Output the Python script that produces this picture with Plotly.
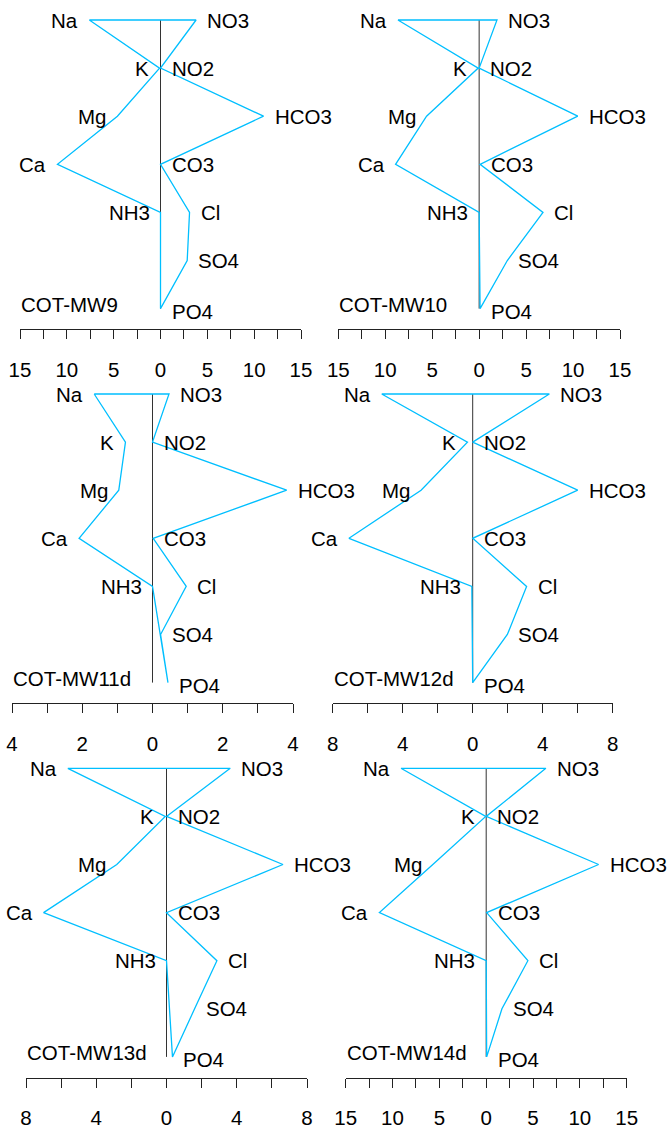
import plotly.graph_objects as go

# ions, top to bottom
cations = ["Na", "K", "Mg", "Ca", "NH3"]
anions = ["NO3", "NO2", "HCO3", "CO3", "Cl", "SO4", "PO4"]

samples = ["COT-MW9", "COT-MW10", "COT-MW11d", "COT-MW12d", "COT-MW13d", "COT-MW14d"]

# cation values (drawn to the left)
na = [7.6, 8.65, 1.66, 5.2, 5.62, 9.1]
k = [0.1, 0.1, 0.77, 0.3, 0.07, 0.05]
mg = [4.6, 5.6, 0.96, 2.95, 2.83, 5.7]
ca = [11.0, 8.9, 2.09, 7.07, 7.0, 11.4]
nh3 = [0.0, 0.0, 0.0, 0.05, 0.0, 0.0]

# anion values (drawn to the right)
no3 = [3.8, 1.9, 0.47, 4.38, 3.63, 6.37]
no2 = [0.0, 0.0, 0.0, 0.0, 0.0, 0.0]
hco3 = [11.0, 10.5, 3.82, 6.0, 6.63, 12.0]
co3 = [0.0, 0.1, 0.02, 0.0, 0.0, 0.05]
cl = [3.1, 6.8, 0.96, 3.08, 2.87, 4.45]
so4 = [2.85, 3.0, 0.23, 1.98, 1.6, 1.68]
po4 = [0.0, 0.1, 0.44, 0.0, 0.34, 0.05]

# axis ticks per panel
ticks_15 = [-15, -12.5, -10, -7.5, -5, -2.5, 0, 2.5, 5, 7.5, 10, 12.5, 15]
text_15 = ["15", "", "10", "", "5", "", "0", "", "5", "", "10", "", "15"]
ticks_4 = [-4, -3, -2, -1, 0, 1, 2, 3, 4]
text_4 = ["4", "", "2", "", "0", "", "2", "", "4"]
ticks_8 = [-8, -6, -4, -2, 0, 2, 4, 6, 8]
text_8 = ["8", "", "4", "", "0", "", "4", "", "8"]
panel_ticks = [(ticks_15, text_15), (ticks_15, text_15), (ticks_4, text_4),
               (ticks_8, text_8), (ticks_8, text_8), (ticks_15, text_15)]

W, H = 670, 1142
CYAN = "#00BFFF"
FONT = "Liberation Sans, Arial, sans-serif"

# pixel frame of each panel: axis left, axis right, top row y
frames = [(20, 301, 20), (338.3, 620, 20),
          (12, 293, 394), (332.7, 612.7, 394),
          (26, 307, 768.3), (345.7, 626.7, 768.3)]
ROW = 48.1
AXIS_DROP = 309.3
TOP_PAD = 10

fig = go.Figure()
annotations = []

for i, name in enumerate(samples):
    n = i + 1
    xa = "x" if n == 1 else f"x{n}"
    ya = "y" if n == 1 else f"y{n}"
    left, right, top = frames[i]
    tv, tt = panel_ticks[i]
    lim = tv[-1]

    cat = [na[i], k[i], mg[i], ca[i], nh3[i]]
    an = [no3[i], no2[i], hco3[i], co3[i], cl[i], so4[i], po4[i]]

    # centre line
    fig.add_trace(go.Scatter(x=[0, 0], y=[0, -6], mode="lines",
                             line=dict(color="#333333", width=1),
                             xaxis=xa, yaxis=ya, showlegend=False,
                             hoverinfo="skip"))
    # stiff polygon
    px = [-v for v in cat] + [an[6], an[5], an[4], an[3], an[2], an[1], an[0], -cat[0]]
    py = [0, -1, -2, -3, -4, -6, -5, -4, -3, -2, -1, 0, 0]
    fig.add_trace(go.Scatter(x=px, y=py, mode="lines",
                             line=dict(color=CYAN, width=1.3),
                             xaxis=xa, yaxis=ya, showlegend=False))

    for j, lab in enumerate(cations):
        annotations.append(dict(x=-cat[j], y=-j, xref=xa, yref=ya, text=lab,
                                showarrow=False, xanchor="right", yanchor="middle",
                                xshift=-9))
    for j, lab in enumerate(anions):
        annotations.append(dict(x=an[j], y=-j, xref=xa, yref=ya, text=lab,
                                showarrow=False, xanchor="left", yanchor="middle",
                                xshift=9, yshift=-3 if lab == "PO4" else 0))
    annotations.append(dict(x=-lim, y=-6, xref=xa, yref=ya, text=name,
                            showarrow=False, xanchor="left", yanchor="middle",
                            xshift=-1, yshift=4))

    bottom = top + AXIS_DROP
    ymin = -AXIS_DROP / ROW
    ymax = TOP_PAD / ROW
    fig.layout[("xaxis" if n == 1 else f"xaxis{n}")] = dict(
        domain=[left / W, right / W], range=[-lim, lim], anchor=ya,
        showgrid=False, zeroline=False, showline=True, linecolor="#222222",
        linewidth=1, ticks="outside", ticklen=9, tickwidth=1, tickcolor="#222222",
        tickvals=tv, ticktext=tt, ticklabelstandoff=13, fixedrange=True,
        automargin=False)
    fig.layout[("yaxis" if n == 1 else f"yaxis{n}")] = dict(
        domain=[1 - bottom / H, 1 - (top - TOP_PAD) / H], range=[ymin, ymax],
        anchor=xa, visible=False, fixedrange=True, automargin=False)

fig.update_layout(
    width=W, height=H, margin=dict(l=0, r=0, t=0, b=0, autoexpand=False),
    paper_bgcolor="white", plot_bgcolor="white",
    font=dict(family=FONT, size=20.5, color="black"),
    annotations=annotations, showlegend=False,
)

# page body has a default 8px margin; drop it so the figure sits at 0,0
fig.write_html("out.html", config={"displayModeBar": False},
               post_script="document.body.style.margin='0';")
